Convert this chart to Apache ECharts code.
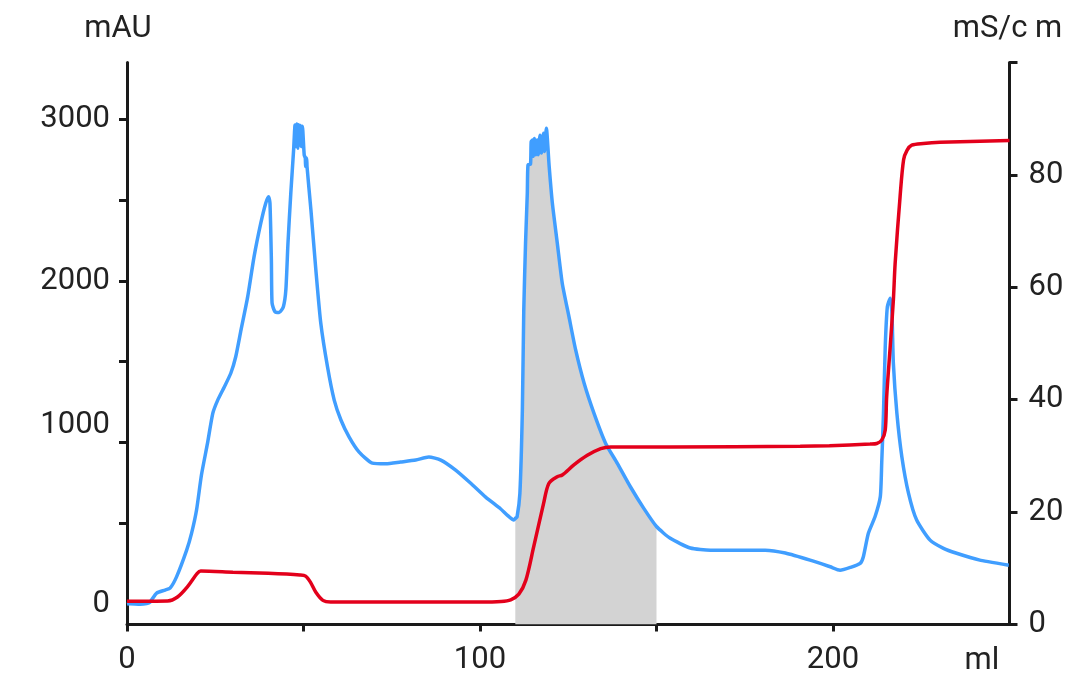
<!DOCTYPE html>
<html>
<head>
<meta charset="utf-8">
<script src="https://cdn.jsdelivr.net/npm/echarts@6/dist/echarts.min.js"></script>
<style>
html,body{margin:0;padding:0;background:#fff;}
#chart{width:1072px;height:684px;}
</style>
</head>
<body>
<div id="chart"></div>
<script>
// UV absorbance (mAU) vs volume (ml)
const uvX = [0,0.8,3.7,5.6,6.5,8.4,10.8,12.2,14,16.9,18.3,19.7,21.1,22.8,24.3,25.7,27.6,29.4,30.8,32.3,34.2,36,37.9,39.3,40.1,40.5,40.9,41.1,41.9,43.1,44.3,45,45.6,46.4,47.2,47.6,47.9,48.1,48.4,48.6,48.9,49.1,49.4,49.7,50.2,50.5,50.6,50.9,51.0,52.1,53.5,54.9,56.8,58.7,60.6,62.9,65.7,69.5,73.3,77.5,81.8,85.5,88.9,93.1,97.3,101.6,105.8,107.7,109.6,110,110.5,111.3,112,112.4,112.9,113.4,113.6,114.3,114.5,114.9,115.1,115.4,115.8,116.2,116.5,117.0,117.4,118.0,118.3,118.8,119.6,120.5,121.9,123.3,125.2,127.1,129.5,132.3,135.6,138.9,142.6,146.4,150,153.9,159.6,165.3,173.8,180.8,186.5,193.5,199.2,202,204.9,207.7,208.6,210,211.9,213.4,213.8,214.3,214.8,215.4,216.2,216.7,217.1,218.1,219.5,221.4,223.7,227.5,231.3,234.8,241.6,249.8];
const uvY = [0,3,0,4,12,68,87,99,167,334,439,582,800,994,1180,1262,1345,1428,1530,1696,1902,2149,2356,2480,2520,2480,2129,1861,1809,1803,1840,1943,2232,2541,2809,2964,2830,2970,2820,2965,2840,2960,2830,2955,2778,2760,2706,2758,2706,2438,2067,1737,1468,1262,1139,1035,942,872,868,879,891,910,891,829,749,662,590,551,520,530,540,685,1200,1819,2232,2541,2717,2720,2860,2870,2770,2880,2780,2870,2780,2900,2790,2913,2800,2944,2706,2480,2232,1985,1778,1572,1366,1180,994,871,726,592,480,407,347,334,334,334,316,272,231,210,227,252,293,437,540,664,871,1180,1592,1840,1892,1799,1489,1180,912,685,520,396,345,316,272,241];
// Conductivity (mS/cm) vs volume (ml)
const condX = [0,11.5,14.3,17.1,19.9,20.9,30,40,49,50.6,52,53.5,55.5,57.7,80,100,106,108.7,111,113,115.2,118,119.5,121.9,123.3,126.6,130.4,134.2,137,153.7,190.7,199,210.5,212.4,213.8,214.8,215.2,216.2,217.1,217.6,219,220,221,222.3,225.6,230.3,250];
const condY = [4.15,4.2,4.9,6.7,9.1,9.5,9.3,9.1,8.8,8.6,7.5,5.75,4.3,4.0,4.0,4.0,4.1,4.4,5.4,7.9,13.8,21.5,25.1,26.3,26.6,28.4,30.1,31.3,31.6,31.6,31.7,31.8,32.1,32.2,32.8,34.6,40.5,49.4,57.7,64.2,76.1,82.7,84.4,85.3,85.6,85.8,86.1];
// Collected fraction (shaded)
const fractionRange = [110, 150];
// Tick values
const xTicks = [0,50,100,150,200];
const xLabels = [0,100,200];
const leftTicks = [500,1000,1500,2000,2500,3000];
const leftLabels = [0,1000,2000,3000];
const rightTicks = [0,20,40,60,80,100];
const rightLabels = [0,20,40,60,80];
const xUnit = 'ml';
const xUnitAt = 242.2;

const uvData = uvX.map((x,i)=>[x,uvY[i]]);
const condData = condX.map((x,i)=>[x,condY[i]]);
const fracData = uvData.filter(p=>p[0]>=fractionRange[0] && p[0]<=fractionRange[1]);

const FONT = 'Roboto';
const FS = 31;
const AX = '#1a1a1a';
const TXT = '#222222';

const chart = echarts.init(document.getElementById('chart'), null, {renderer:'canvas'});
chart.setOption({
  animation:false,
  backgroundColor:'#ffffff',
  grid:{left:127, right:62.5, top:62.5, bottom:59.5},
  xAxis:{
    type:'value', min:0, max:250,
    axisLine:{show:true, onZero:false, lineStyle:{color:AX, width:3}},
    axisTick:{show:true, length:7, lineStyle:{color:AX, width:3}, customValues:xTicks},
    axisLabel:{fontFamily:FONT, fontSize:FS, color:TXT, margin:20, customValues:xLabels},
    splitLine:{show:false}
  },
  yAxis:[{
    type:'value', min:-126, max:3350, position:'left',
    name:'mAU', nameLocation:'end', nameGap:18,
    nameTextStyle:{fontFamily:FONT, fontSize:FS, color:TXT, padding:[0,18,0,0]},
    axisLine:{show:true, onZero:false, lineStyle:{color:AX, width:3}},
    axisTick:{show:true, length:8, lineStyle:{color:AX, width:3}, customValues:leftTicks},
    axisLabel:{fontFamily:FONT, fontSize:FS, color:TXT, margin:17, customValues:leftLabels,
      formatter:function(v){ return v===1000 ? '{hi|1000}' : String(v); },
      rich:{hi:{fontFamily:FONT, fontSize:FS, color:TXT, padding:[0,0,34,0]}}},
    splitLine:{show:false}
  },{
    type:'value', min:0, max:100, position:'right',
    name:'mS/c m', nameLocation:'end', nameGap:18,
    nameTextStyle:{fontFamily:FONT, fontSize:FS, color:TXT, padding:[0,4,0,0]},
    axisLine:{show:true, onZero:false, lineStyle:{color:AX, width:3}},
    axisTick:{show:true, length:8, lineStyle:{color:AX, width:3}, customValues:rightTicks},
    axisLabel:{fontFamily:FONT, fontSize:FS, color:TXT, margin:19, customValues:rightLabels},
    splitLine:{show:false}
  }],
  series:[{
    name:'fraction', type:'line', yAxisIndex:0, data:fracData, symbol:'none',
    smooth:0.2, lineStyle:{width:0, color:'#d3d3d3'},
    areaStyle:{color:'#d3d3d3', opacity:1, origin:'start'}, z:1, silent:true
  },{
    name:'UV', type:'line', yAxisIndex:0, data:uvData, symbol:'none',
    smooth:0.2, lineStyle:{width:3.5, color:'#409eff'}, z:3
  },{
    name:'Cond', type:'line', yAxisIndex:1, data:condData, symbol:'none',
    smooth:0.3, lineStyle:{width:3.5, color:'#e3001b'}, z:4
  }]
});
// x-axis unit label, placed via the axis scale
const unitPx = chart.convertToPixel({xAxisIndex:0}, xUnitAt);
const axisYPx = chart.convertToPixel({yAxisIndex:0}, -126);
chart.setOption({
  graphic:[{
    type:'text', x:unitPx, y:axisYPx + 37,
    style:{text:xUnit, fontFamily:FONT, fontSize:FS, fill:TXT, align:'center', verticalAlign:'middle'}
  }]
});
</script>
</body>
</html>
